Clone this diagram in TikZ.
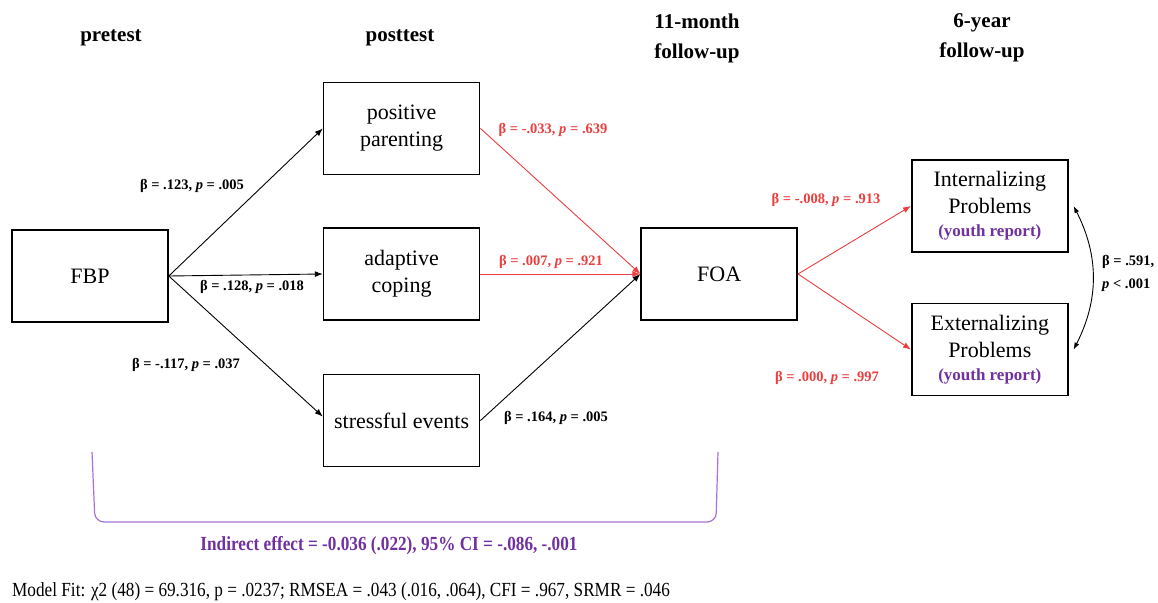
\documentclass[tikz,border=0pt]{standalone}
\usepackage{fontspec}
\setmainfont{Liberation Serif}
\usepackage{tikz}
\usetikzlibrary{positioning, arrows.meta}
\usepackage{xcolor}
\definecolor{pathred}{RGB}{236,62,62}
\definecolor{youthpurple}{RGB}{112,48,160}
\definecolor{bracepurple}{RGB}{165,115,210}

\begin{document}
\begin{tikzpicture}[x=1pt, y=-1pt,
    box/.style={rectangle, draw=black, line width=1.6pt, minimum width=156pt, minimum height=92pt, inner sep=2pt, align=center, font=\fontsize{22}{27}\selectfont},
    hdr/.style={font=\fontsize{21}{30}\selectfont\bfseries, align=center, inner sep=0pt},
    lbl/.style={font=\fontsize{14.5}{23}\selectfont\bfseries, inner sep=0pt},
    arr/.style={-{Latex[length=8pt,width=6pt]}, line width=0.9pt},
    redarr/.style={arr, draw=pathred}]

\useasboundingbox (0,0) rectangle (1158,602);

% Time points
\node[hdr] (hpre) at (111,38) {pretest};
\node[hdr] (hpost) at (400,38) {posttest};
\node[hdr] (hmonth) at (697,38) {11-month\\follow-up};
\node[hdr] (hyear) at (982,38) {6-year\\follow-up};

% Pretest
\node[box] (fbp) at (90,276) {FBP};

% Posttest mediators
\node[box, right=154pt of fbp, yshift=2pt] (cope) {adaptive\\coping};
\node[box, above=52pt of cope] (pos) {positive\\parenting};
\node[box, below=53pt of cope] (stress) {stressful events};

% 11-month follow-up
\node[box, right=160pt of cope] (foa) {FOA};

% 6-year follow-up
\node[box, right=113pt of foa, yshift=68pt] (intp) {Internalizing\\Problems\\[-4pt]{\fontsize{17}{20}\selectfont\bfseries\color{youthpurple}(youth report)}};
\node[box, below=50pt of intp] (extp) {Externalizing\\Problems\\[-4pt]{\fontsize{17}{20}\selectfont\bfseries\color{youthpurple}(youth report)}};

% Paths from FBP
\draw[arr] (fbp.east) -- (pos.west);
\draw[arr] (fbp.east) -- (cope.west);
\draw[arr] (fbp.east) -- ([yshift=4pt]stress.west);

% Paths to FOA
\draw[redarr] (pos.east) -- (foa.west);
\draw[redarr] (cope.east) -- (foa.west);
\draw[arr] (stress.east) -- (foa.west);

% Paths to youth outcomes
\draw[redarr] (foa.east) -- (intp.west);
\draw[redarr] (foa.east) -- (extp.west);

% Covariance
\draw[{Latex[length=7pt,width=5pt]}-{Latex[length=7pt,width=5pt]}, line width=0.9pt] ([xshift=5pt]intp.east) to[bend left=27] ([xshift=5pt]extp.east);

% Coefficients
\node[lbl] (b1) at (192,186) {β = .123, {\itshape p} = .005};
\node[lbl] (b2) at (252,287) {β = .128, {\itshape p} = .018};
\node[lbl] (b3) at (186,365) {β = -.117, {\itshape p} = .037};
\node[lbl, text=pathred] (b4) at (553,130) {β = -.033, {\itshape p} = .639};
\node[lbl, text=pathred] (b5) at (551,262) {β = .007, {\itshape p} = .921};
\node[lbl] (b6) at (556,418) {β = .164, {\itshape p} = .005};
\node[lbl, text=pathred] (b7) at (826,200) {β = -.008, {\itshape p} = .913};
\node[lbl, text=pathred] (b8) at (827,378) {β = .000, {\itshape p} = .997};
\node[lbl, anchor=west, align=left] (b9) at (1102,273) {β = .591,\\{\itshape p} < .001};

% Indirect effect bracket
\draw[bracepurple, line width=1.2pt, rounded corners=9pt] (92,452) -- (95,522) -- (716,522) -- (718,452);
\node[font=\fontsize{20}{22}\selectfont\bfseries, text=youthpurple, inner sep=0pt] (ind) at (389,546) {\scalebox{0.86}[1]{Indirect effect = -0.036 (.022), 95\% CI = -.086, -.001}};

% Model fit
\node[font=\fontsize{20}{22}\selectfont, anchor=west, inner sep=0pt] (fit) at (12,592) {\scalebox{0.86}[1]{Model Fit: χ2 (48) = 69.316, p = .0237; RMSEA = .043 (.016, .064), CFI = .967, SRMR = .046}};

\end{tikzpicture}
\end{document}
